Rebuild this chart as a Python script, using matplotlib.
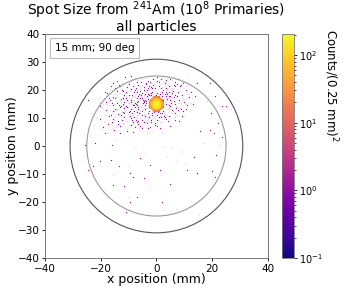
import numpy as np
import matplotlib
matplotlib.use("Agg")
import matplotlib.pyplot as plt
from matplotlib.colors import LogNorm
from matplotlib.patches import Circle

# ---------------- data ----------------
bin_size = 0.25
x_range = (-40.0, 40.0)
y_range = (-40.0, 40.0)
spot_center = (0.0, 15.0)

# bright spot: counts per 0.5 mm cell, rows dy=+2.5..-2.5, cols dx=-2.5..+2.5
core_cell = 0.5
core_counts = [
    [0, 0, 0, 14, 22, 24, 21, 13, 0, 0, 0],
    [0, 0, 24, 42, 55, 60, 54, 41, 23, 0, 0],
    [0, 23, 50, 78, 100, 110, 99, 77, 48, 22, 0],
    [15, 42, 78, 119, 146, 160, 145, 116, 76, 41, 14],
    [22, 55, 100, 146, 184, 200, 182, 144, 98, 53, 21],
    [24, 58, 108, 158, 198, 220, 197, 156, 106, 56, 22],
    [21, 54, 99, 144, 181, 196, 180, 143, 97, 52, 20],
    [14, 41, 76, 116, 144, 156, 142, 114, 75, 40, 13],
    [0, 22, 48, 76, 98, 106, 97, 75, 47, 21, 0],
    [0, 0, 23, 41, 53, 56, 52, 40, 22, 0, 0],
    [0, 0, 0, 13, 21, 22, 20, 12, 0, 0, 0],
]

# halo hits around the spot (x, y) in mm, one count each
halo_upper = [
    (-11.2,24.3),(-9.0,24.8),(-7.4,24.1),(-5.1,24.6),(-3.3,24.2),(-1.6,24.9),(0.4,24.4),(2.2,24.7),(4.1,24.2),(6.3,24.5),(8.1,24.0),
    (-13.8,23.1),(-12.4,22.4),(-10.9,23.6),(-9.6,22.8),(-8.7,23.9),(-7.5,22.2),(-6.6,23.3),(-5.4,22.7),(-4.8,23.8),(-3.7,22.3),(-2.9,23.2),(-2.1,22.6),(-1.2,23.7),(-0.5,22.1),(0.3,23.0),(1.1,22.5),(1.9,23.6),(2.8,22.9),(3.6,23.4),(4.5,22.2),(5.6,23.1),(6.8,22.6),(8.2,23.5),(9.7,22.3),
    (-16.1,21.2),(-14.7,20.6),(-13.5,21.7),(-12.3,20.3),(-11.6,21.4),(-10.4,20.9),(-9.7,21.8),(-8.8,20.4),(-8.1,21.1),(-7.2,20.7),(-6.5,21.6),(-5.8,20.2),(-5.0,21.3),(-4.3,20.8),(-3.6,21.9),(-3.0,20.5),(-2.4,21.2),(-1.7,20.1),(-1.1,21.7),(-0.4,20.6),(0.2,21.4),(0.9,20.3),(1.5,21.8),(2.3,20.9),(3.0,21.5),(3.8,20.4),(4.6,21.1),(5.5,20.7),(6.4,21.6),(7.3,20.2),(8.5,21.0),(9.8,20.6),(11.2,21.3),
    (-18.3,19.1),(-17.0,18.5),(-15.8,19.6),(-14.9,18.3),(-13.9,19.3),(-13.1,18.8),(-12.2,19.8),(-11.4,18.2),(-10.7,19.0),(-10.0,18.6),(-9.3,19.5),(-8.6,18.1),(-8.0,19.2),(-7.4,18.7),(-6.8,19.7),(-6.2,18.4),(-5.6,19.3),(-5.1,18.9),(-4.5,19.8),(-4.0,18.3),(-3.4,19.1),(-2.9,18.6),(-2.3,19.6),(-1.8,18.2),(-1.3,19.0),(-0.7,18.5),(-0.2,19.4),(0.4,18.8),(0.9,19.7),(1.4,18.3),(2.0,19.2),(2.6,18.7),(3.2,19.5),(3.9,18.4),(4.6,19.0),(5.3,18.6),(6.1,19.4),(6.9,18.2),(7.8,19.1),(8.8,18.7),(9.9,19.5),(11.3,18.4),(12.6,19.0),
]
halo_middle = [
    (-20.1,17.2),(-18.6,16.6),(-17.4,17.6),(-16.3,16.4),(-15.5,17.3),(-14.6,16.8),(-13.8,17.8),(-13.0,16.2),(-12.3,17.0),(-11.6,16.6),(-10.9,17.5),(-10.3,16.3),(-9.7,17.1),(-9.1,16.7),(-8.5,17.7),(-8.0,16.2),(-7.4,17.3),(-6.9,16.8),(-6.3,17.6),(-5.8,16.4),(-5.3,17.2),(-4.8,16.9),(-4.3,17.8),(-3.8,16.3),(-3.3,17.4),(-2.8,16.7),(-2.2,17.9),(-1.7,16.1),(-1.2,17.0),(-0.6,16.5),(-0.1,17.7),(0.5,16.2),(1.0,17.3),(1.6,16.8),(2.1,17.6),(2.7,16.4),(3.3,17.2),(3.9,16.6),(4.6,17.5),(5.2,16.3),(5.9,17.1),(6.7,16.7),(7.5,17.6),(8.4,16.4),(9.4,17.2),(10.5,16.6),(11.8,17.4),(13.1,16.9),
    (-20.4,15.3),(-19.0,14.7),(-17.8,15.7),(-16.7,14.4),(-15.8,15.1),(-15.0,14.8),(-14.2,15.8),(-13.4,14.3),(-12.7,15.4),(-12.0,14.9),(-11.3,15.6),(-10.6,14.2),(-10.0,15.0),(-9.4,14.6),(-8.8,15.7),(-8.2,14.3),(-7.6,15.2),(-7.1,14.8),(-6.5,15.9),(-6.0,14.1),(-5.5,15.3),(-5.0,14.7),(-4.5,15.6),(-4.0,14.4),(-3.6,15.1),(3.6,14.9),(4.1,15.7),(4.7,14.3),(5.3,15.2),(5.9,14.6),(6.6,15.5),(7.3,14.2),(8.1,15.0),(9.0,14.7),(10.0,15.6),(11.1,14.4),(12.3,15.2),(13.4,14.8),
    (-3.2,17.5),(-2.5,18.1),(-1.0,18.6),(0.8,18.3),(2.4,17.9),(3.1,16.9),(3.6,16.0),(3.3,13.6),(2.6,12.4),(1.4,11.5),(0.0,11.2),(-1.3,11.6),(-2.5,12.3),(-3.3,13.4),(-3.7,15.8),(-2.9,17.0),(-4.0,13.0),(4.2,13.1),(2.0,11.0),(-2.1,11.0),(-3.0,18.3),(3.4,18.4),(-4.2,16.9),(4.3,17.0),(-1.8,18.9),(1.7,19.0),(-0.6,11.9),(0.7,11.8),(-3.5,12.0),(3.1,11.8),(-2.2,17.9),(2.2,18.5),
]
halo_ring = [
    (-4.6,15.0),(-5.2,13.9),(-4.1,18.1),(-3.1,19.8),(-1.4,20.6),(0.6,20.4),(2.6,19.9),(4.0,18.9),(5.0,17.6),(5.4,16.1),
    (5.1,14.0),(4.4,12.2),(3.4,11.0),(1.8,10.2),(-0.4,9.7),(-2.4,10.0),(-3.9,11.0),(-5.0,12.3),(-5.6,16.9),(-4.9,18.9),
    (-2.0,20.9),(1.2,21.0),(3.5,20.6),(5.8,18.9),(6.3,15.9),(6.0,12.9),(4.9,11.1),(2.8,9.6),(0.4,9.1),(-1.9,9.2),
    (-4.2,9.9),(-5.8,11.1),(-6.4,13.2),(-6.8,15.6),(-6.0,18.0),(-7.0,19.1),(-7.9,14.4),(-8.3,16.9),(-6.9,11.9),(-7.4,9.9),
    (-9.6,11.9),(-9.2,16.2),(-8.6,13.7),(-10.4,13.8),(-11.9,16.9),(-10.8,18.8),(-12.6,14.2),(-8.9,20.2),(-11.5,10.0),(-13.2,11.6),
    (-3.8,20.3),(-5.3,20.4),(4.2,20.0),(6.2,20.4),(7.1,17.2),(7.6,13.7),(6.9,11.6),(-1.0,8.7),(-3.2,8.1),(-6.0,8.1),
]
halo_extra = [
    (-10.1,22.1),(-6.9,22.7),(-4.2,22.9),(-1.6,22.3),(0.8,23.4),(3.3,22.4),(5.1,23.7),(7.6,21.9),
    (-12.9,21.0),(-9.2,21.3),(-6.0,21.0),(-3.3,21.3),(-0.8,21.2),(1.9,20.5),(4.2,21.7),(6.9,21.1),(9.1,21.6),
    (-14.2,19.8),(-11.8,19.4),(-9.7,18.2),(-7.7,19.9),(-5.3,18.2),(-3.7,19.5),(-1.6,19.6),(0.1,18.1),(1.8,18.6),(3.6,19.1),(5.6,19.8),(7.4,18.7),(9.4,18.2),(10.8,19.8),
    (-16.9,16.9),(-14.1,17.3),(-12.7,16.5),(-10.6,16.9),(-8.8,16.4),(-7.7,17.8),(-6.6,16.2),(-4.6,16.4),(-3.5,16.8),(3.6,17.7),(4.9,16.8),(6.3,17.4),(8.0,17.0),(9.9,16.3),(11.3,16.9),
    (-18.2,14.9),(-15.4,14.3),(-13.9,15.2),(-11.7,14.3),(-9.7,15.4),(-8.5,14.9),(-6.8,14.4),(-5.2,14.3),(-4.3,15.9),(4.4,14.5),(5.6,15.8),(6.9,14.8),(8.6,15.4),(10.6,14.9),
    (-17.3,13.0),(-14.2,12.5),(-12.5,13.5),(-11.1,12.2),(-9.2,12.9),(-7.9,12.4),(-6.3,13.8),(-5.7,12.2),(-4.7,12.9),(4.5,13.6),(5.8,12.5),(7.4,12.9),(9.2,13.0),
    (-16.2,10.9),(-13.1,10.6),(-11.4,11.5),(-9.8,10.2),(-8.4,10.9),(-6.9,10.4),(-6.2,11.5),(-4.8,10.8),(-3.4,10.1),(-0.2,10.1),(1.5,10.7),(3.3,10.1),(5.2,10.4),(7.3,10.8),
    (-15.4,9.4),(-12.2,9.0),(-10.4,8.5),(-8.6,9.1),(-6.8,8.4),(-5.0,9.2),(-3.0,9.6),(-1.9,8.3),(1.5,8.4),(4.3,8.9),
    (-13.6,7.5),(-10.9,7.1),(-8.4,7.6),(-5.7,6.9),(-3.0,6.4),(0.4,6.8),
]
halo_lower = [
    (-19.2,13.3),(-17.9,12.6),(-16.6,13.7),(-15.5,12.3),(-14.6,13.1),(-13.8,12.8),(-13.0,13.8),(-12.2,12.2),(-11.5,13.4),(-10.8,12.7),(-10.2,13.6),(-9.5,12.4),(-8.9,13.2),(-8.3,12.9),(-7.7,13.9),(-7.1,12.1),(-6.6,13.3),(-6.0,12.6),(-5.4,13.7),(-4.9,12.3),(-4.4,13.5),(-1.5,12.9),(1.6,13.1),(4.9,12.8),(5.5,13.6),(6.2,12.2),(7.0,13.3),(7.8,12.7),(8.7,13.5),(9.7,12.4),(10.8,13.2),(12.0,12.8),
    (-18.4,11.2),(-17.0,10.6),(-15.7,11.7),(-14.6,10.4),(-13.6,11.3),(-12.7,10.9),(-11.9,11.8),(-11.0,10.3),(-10.2,11.1),(-9.5,10.7),(-8.7,11.6),(-8.0,10.2),(-7.3,11.4),(-6.6,10.8),(-5.9,11.7),(-5.2,10.4),(-4.5,11.2),(-3.8,10.6),(-3.0,11.5),(-2.3,10.3),(-1.5,10.9),(-0.7,10.4),(0.3,10.8),(1.1,10.2),(2.0,11.6),(2.9,10.5),(3.8,11.2),(4.7,10.7),(5.7,11.5),(6.8,10.3),(8.0,11.0),(9.4,10.6),
    (-20.2,9.3),(-18.7,8.6),(-17.3,9.6),(-16.0,8.3),(-14.8,9.1),(-13.7,8.8),(-12.7,9.7),(-11.7,8.2),(-10.8,9.4),(-9.9,8.7),(-9.0,9.8),(-8.1,8.4),(-7.2,9.2),(-6.3,8.9),(-5.4,9.6),(-4.5,8.3),(-3.5,9.1),(-2.5,8.6),(-1.4,9.5),(-0.3,8.2),(0.9,9.0),(2.2,8.7),(3.6,9.4),(5.1,8.5),(6.8,9.2),(8.4,8.8),
    (-20.5,7.2),(-18.8,6.5),(-17.2,7.6),(-15.7,6.3),(-14.3,7.1),(-12.9,6.8),(-11.6,7.7),(-10.3,6.2),(-9.0,7.3),(-7.7,6.7),(-6.4,7.5),(-5.0,6.4),(-3.6,7.0),(-2.1,6.6),(-0.5,7.4),(1.3,6.3),(3.2,7.1),(5.0,6.8),
    (-19.8,5.3),(-17.6,4.6),(-15.1,5.7),(-12.8,4.4),(-10.5,5.1),(-8.2,4.8),(-5.9,5.5),(-3.4,4.3),(-0.8,5.2),(2.1,4.7),
]
# sparse hits across the rest of the target
sparse_hits = [
    (-19.7,6.0),(-15.9,0.2),(-22.7,-7.3),(-20.2,-5.7),(-16.2,-5.1),(-15.5,-10.5),(-13.3,-7.3),(-9.8,-7.3),(-9.3,-9.9),
    (-7.4,-0.7),(-3.9,-3.0),(2.3,-0.7),(5.6,-1.0),(7.4,-5.7),(10.5,-6.1),(13.6,-4.2),(17.0,0.8),(21.1,-11.1),(20.2,-9.1),
    (15.8,5.0),(19.4,5.6),(23.5,3.2),(22.3,8.0),(23.5,14.0),(25.1,14.2),(-9.9,-16.5),(-10.0,-18.3),(-9.3,-20.1),(-6.9,-18.3),
    (-10.6,-23.7),(7.4,-22.7),(15.4,-24.6),(2.0,-20.1),(5.0,-13.7),(-2.2,-14.7),(-4.5,-11.7),(-8.1,-11.1),(-11.4,-14.3),
    (-15.3,-14.1),(-22.7,-10.5),(-24.3,-8.7),(-21.9,0.8),(-25.4,0.2),(-23.7,3.5),(-18.3,4.4),(-14.1,2.4),(9.2,-2.2),
    (11.0,-8.7),(14.6,-9.9),(18.2,-6.3),(21.7,-3.3),(22.9,0.2),(20.9,4.4),(1.4,-8.7),(-2.2,-6.9),(-5.7,-4.5),(3.8,-3.9),
    (-24.3,16.4),(-23.1,19.4),(19.4,22.3),(-21.3,9.8),(-23.1,11.6),(21.1,17.6),(18.2,15.8),(17.0,10.4),(19.9,11.6),
    (14.0,17.6),(14.6,22.3),(11.0,24.7),(7.4,25.3),(-9.3,25.3),(-15.3,22.3),(-17.7,18.8),(-20.1,14.0),(-22.5,7.4),
]

outer_radius = 31.0
inner_radius = 25.0
label_text = "15 mm; 90 deg"
title_text = "Spot Size from $^{241}$Am ($10^8$ Primaries)\nall particles"
cbar_label = "Counts/(0.25 mm)$^2$"
vmin, vmax = 0.1, 205.0

# ---------------- build histogram ----------------
xedges = np.arange(x_range[0], x_range[1] + bin_size / 2, bin_size)
yedges = np.arange(y_range[0], y_range[1] + bin_size / 2, bin_size)
hits = np.array(halo_upper + halo_middle + halo_ring + halo_extra + halo_lower + sparse_hits)
H, _, _ = np.histogram2d(hits[:, 0], hits[:, 1], bins=[xedges, yedges])

core = np.array(core_counts, dtype=float)
n = core.shape[0]
half = (n - 1) / 2
sub = int(round(core_cell / bin_size))
for r in range(n):
    for c in range(n):
        if core[r, c] <= 0:
            continue
        cx = spot_center[0] + (c - half) * core_cell
        cy = spot_center[1] + (half - r) * core_cell
        ix0 = int(np.floor((cx - core_cell / 2 - x_range[0]) / bin_size + 1e-6))
        iy0 = int(np.floor((cy - core_cell / 2 - y_range[0]) / bin_size + 1e-6))
        H[ix0:ix0 + sub, iy0:iy0 + sub] = core[r, c]

Hm = np.ma.masked_less_equal(H.T, 0)

# ---------------- plot ----------------
fig = plt.figure(figsize=(3.6, 2.88), dpi=100)
ax = fig.add_axes([0.125, 0.104, 0.619, 0.778])
cax = fig.add_axes([0.783, 0.104, 0.033, 0.778])

mesh = ax.pcolormesh(xedges, yedges, Hm, cmap="plasma", norm=LogNorm(vmin=vmin, vmax=vmax),
                     antialiased=True, edgecolors="face", linewidth=0.1)

ax.add_patch(Circle((0, 0), outer_radius, fill=False, edgecolor="#555555", lw=0.8))
ax.add_patch(Circle((0, 0), inner_radius, fill=False, edgecolor="#9a9a9a", lw=0.8))

ax.set_xlim(*x_range)
ax.set_ylim(*y_range)
ax.set_xticks([-40, -20, 0, 20, 40])
ax.set_yticks(np.arange(-40, 41, 10))
ax.tick_params(labelsize=7.5, length=2.5, width=0.6, pad=1.5)
ax.set_xlabel("x position (mm)", fontsize=9)
ax.set_ylabel("y position (mm)", fontsize=9)
ax.xaxis.set_label_coords(0.5, -0.066)
ax.xaxis.label.set_va("top")
ax.yaxis.set_label_coords(-0.115, 0.5)
ax.set_title(title_text, fontsize=10, pad=-1.0, linespacing=0.95)
for s in ax.spines.values():
    s.set_linewidth(0.7)
    s.set_color("#777777")

ax.text(0.045, 0.96, label_text, transform=ax.transAxes, fontsize=7.5, va="top", ha="left",
        bbox=dict(boxstyle="square,pad=0.45", facecolor="white", edgecolor="#bbbbbb", lw=0.8))

cb = fig.colorbar(mesh, cax=cax)
cb.ax.tick_params(labelsize=7, length=2.5, width=0.6, pad=1.5)
cb.ax.tick_params(which="minor", length=1.5, width=0.5)
cb.outline.set_linewidth(0.6)
cb.outline.set_edgecolor("#777777")
fig.text(0.919, 1 - 85 / 288, cbar_label, rotation=270, ha="center", va="center", fontsize=8.5)

fig.savefig("out.png", dpi=100)
